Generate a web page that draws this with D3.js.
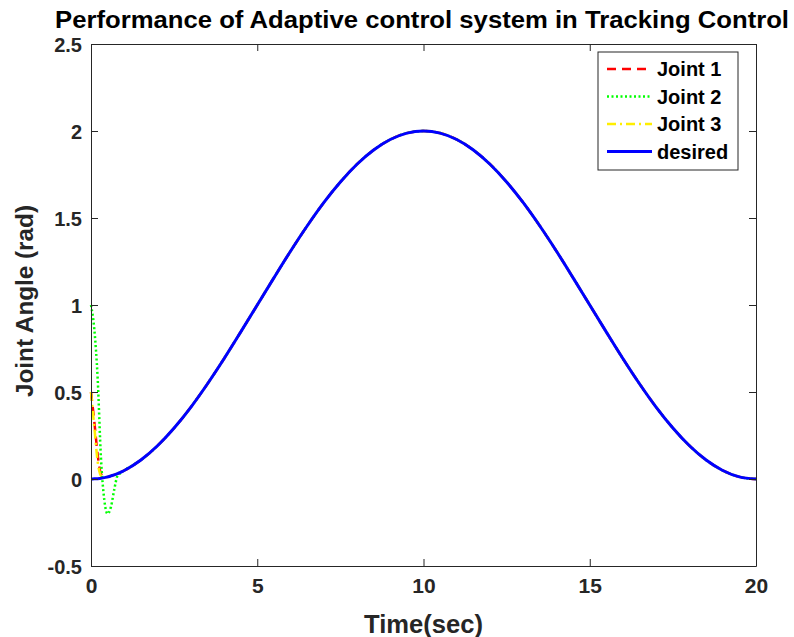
<!DOCTYPE html>
<html>
<head>
<meta charset="utf-8">
<script src="https://cdn.jsdelivr.net/npm/d3@7"></script>
<style>
  body { margin: 0; background: #fff; }
  text { font-family: "Liberation Sans", Arial, sans-serif; font-weight: bold; }
</style>
</head>
<body>
<div id="chart"></div>
<script>
// time samples (sec)
var timeValues = [0, 0.1, 0.2, 0.3, 0.4, 0.5, 0.6, 0.7, 0.8, 0.9, 1.0,
  1.5, 2, 2.5, 3, 3.5, 4, 4.5, 5, 5.5, 6, 6.5, 7, 7.5, 8, 8.5, 9, 9.5, 10,
  10.5, 11, 11.5, 12, 12.5, 13, 13.5, 14, 14.5, 15, 15.5, 16, 16.5, 17, 17.5, 18, 18.5, 19, 19.5, 20];

// desired trajectory
var desiredValues = [0, 0.001, 0.002, 0.004, 0.008, 0.012, 0.018, 0.024, 0.031, 0.04, 0.049,
  0.109, 0.191, 0.293, 0.412, 0.546, 0.691, 0.844, 1.0, 1.156, 1.309, 1.454, 1.588, 1.707, 1.809, 1.891, 1.951, 1.988, 2.0,
  1.988, 1.951, 1.891, 1.809, 1.707, 1.588, 1.454, 1.309, 1.156, 1.0, 0.844, 0.691, 0.546, 0.412, 0.293, 0.191, 0.109, 0.049, 0.012, 0];

// joints: transient at start, then overlapping the desired curve
var joint1Values = [0.5, 0.33, 0.14, 0.03, 0.012, 0.012, 0.018, 0.024, 0.031, 0.04, 0.049].concat(desiredValues.slice(11));
var joint2Values = [1.0, 0.86, 0.58, 0.12, -0.12, -0.2, -0.16, -0.06, 0.02, 0.035, 0.049].concat(desiredValues.slice(11));
var joint3Values = [0.5, 0.3, 0.1, 0.02, 0.01, 0.012, 0.018, 0.024, 0.031, 0.04, 0.049].concat(desiredValues.slice(11));

var xTicks = [0, 5, 10, 15, 20];
var yTicks = [-0.5, 0, 0.5, 1, 1.5, 2, 2.5];

var series = [
  { name: "Joint 1", values: joint1Values, color: "#ff0000", dash: "9,6", width: 2.5 },
  { name: "Joint 2", values: joint2Values, color: "#00ff00", dash: "2,2.5", width: 2.5 },
  { name: "Joint 3", values: joint3Values, color: "#ffee00", dash: "9,4,2,4", width: 2.5 },
  { name: "desired", values: desiredValues, color: "#0000ff", dash: null, width: 3 }
];

var svgWidth = 794;
var svgHeight = 637;
var margin = { top: 44, right: 38, bottom: 71, left: 91 };
var width = svgWidth - margin.left - margin.right;
var height = svgHeight - margin.top - margin.bottom;

var svg = d3.select("#chart")
  .append("svg")
  .attr("width", svgWidth)
  .attr("height", svgHeight);

var chartGroup = svg.append("g")
  .attr("transform", `translate(${margin.left}, ${margin.top})`);

var x = d3.scaleLinear().domain([0, 20]).range([0, width]);
var y = d3.scaleLinear().domain([-0.5, 2.5]).range([height, 0]);

// lines
var line = d3.line()
  .x((d, i) => x(timeValues[i]))
  .y(d => y(d))
  .curve(d3.curveMonotoneX);

series.forEach(function(s) {
  chartGroup.append("path")
    .datum(s.values)
    .attr("fill", "none")
    .attr("stroke", s.color)
    .attr("stroke-width", s.width)
    .attr("stroke-dasharray", s.dash)
    .attr("d", line);
});

// axes (ticks inside, box on)
var axisColor = "#262626";
var fmt = d => String(d); // plain hyphen minus like matlab
var bottomAxis = d3.axisBottom(x).tickValues(xTicks).tickSizeInner(-7).tickSizeOuter(0).tickPadding(12).tickFormat(fmt);
var leftAxis = d3.axisLeft(y).tickValues(yTicks).tickSizeInner(-7).tickSizeOuter(0).tickPadding(9).tickFormat(fmt);
var topAxis = d3.axisTop(x).tickValues(xTicks).tickSizeInner(-7).tickSizeOuter(0).tickFormat("");
var rightAxis = d3.axisRight(y).tickValues(yTicks).tickSizeInner(-7).tickSizeOuter(0).tickFormat("");

var xAxis = chartGroup.append("g").attr("transform", `translate(0, ${height})`).call(bottomAxis);
var yAxis = chartGroup.append("g").call(leftAxis);
chartGroup.append("g").call(topAxis);
chartGroup.append("g").attr("transform", `translate(${width}, 0)`).call(rightAxis);

chartGroup.selectAll(".domain").attr("stroke", axisColor);
chartGroup.selectAll(".tick line").attr("stroke", axisColor);
xAxis.selectAll("text").attr("font-size", "21px").attr("fill", axisColor);
yAxis.selectAll("text").attr("font-size", "20px").attr("fill", axisColor).attr("dy", "0.35em");

// title
svg.append("text")
  .attr("x", 422)
  .attr("y", 28)
  .attr("text-anchor", "middle")
  .attr("font-size", "23px")
  .attr("textLength", 734)
  .attr("lengthAdjust", "spacingAndGlyphs")
  .text("Performance of Adaptive control system in Tracking Control");

// axis labels
svg.append("text")
  .attr("x", margin.left + width / 2)
  .attr("y", 633)
  .attr("text-anchor", "middle")
  .attr("font-size", "25px")
  .attr("textLength", 119)
  .attr("lengthAdjust", "spacingAndGlyphs")
  .attr("fill", axisColor)
  .text("Time(sec)");

svg.append("text")
  .attr("transform", "rotate(-90)")
  .attr("x", -301)
  .attr("y", 33)
  .attr("text-anchor", "middle")
  .attr("font-size", "24px")
  .attr("textLength", 192)
  .attr("lengthAdjust", "spacingAndGlyphs")
  .attr("fill", axisColor)
  .text("Joint Angle (rad)");

// legend
var legend = svg.append("g").attr("transform", "translate(598, 52)");
legend.append("rect")
  .attr("width", 140)
  .attr("height", 118)
  .attr("fill", "#fff")
  .attr("stroke", axisColor)
  .attr("stroke-width", 1);

series.forEach(function(s, i) {
  var ly = 17 + i * 27.5;
  legend.append("line")
    .attr("x1", 9).attr("x2", 54)
    .attr("y1", ly).attr("y2", ly)
    .attr("stroke", s.color)
    .attr("stroke-width", s.width)
    .attr("stroke-dasharray", s.dash);
  legend.append("text")
    .attr("x", 59)
    .attr("y", ly)
    .attr("dy", "0.35em")
    .attr("font-size", "20px")
    .text(s.name);
});
</script>
</body>
</html>
